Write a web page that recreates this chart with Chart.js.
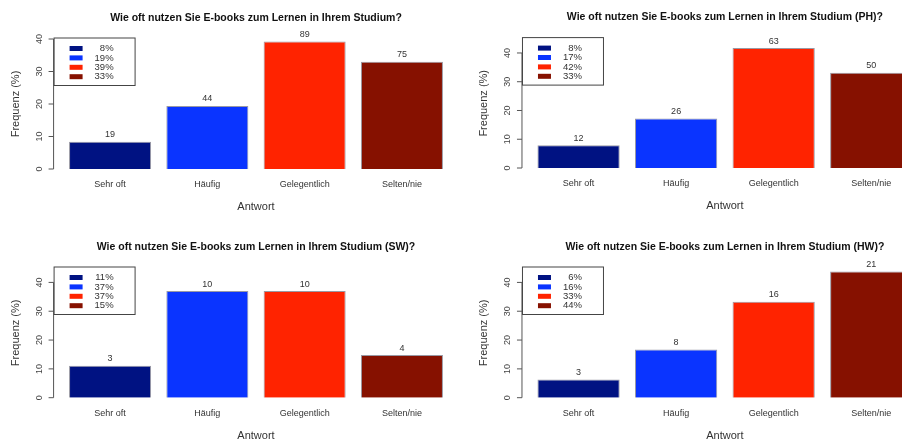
<!DOCTYPE html>
<html>
<head>
<meta charset="utf-8">
<script src="https://cdn.jsdelivr.net/npm/chart.js@4.4.1/dist/chart.umd.min.js"></script>
<style>
  html, body { margin: 0; padding: 0; background: #fff; }
  #wrap { position: relative; width: 902px; height: 439px; overflow: hidden; }
  #wrap canvas { position: absolute; }
</style>
</head>
<body>
<div id="wrap">
  <canvas id="c1" width="451" height="220" style="left:0;top:0"></canvas>
  <canvas id="c2" width="480" height="220" style="left:451px;top:0"></canvas>
  <canvas id="c3" width="451" height="219" style="left:0;top:220px"></canvas>
  <canvas id="c4" width="480" height="219" style="left:451px;top:220px"></canvas>
</div>
<script>
// --- data ---
const categories = ['Sehr oft', 'Häufig', 'Gelegentlich', 'Selten/nie'];
const xTitle = 'Antwort';
const yTitle = 'Frequenz (%)';
const yTicks = [0, 10, 20, 30, 40];

const titleAll = 'Wie oft nutzen Sie E-books zum Lernen in Ihrem Studium?';
const countsAll = [19, 44, 89, 75];
const pctAll = [8.4, 19.4, 39.2, 33.0];
const legendAll = ['8%', '19%', '39%', '33%'];

const titlePH = 'Wie oft nutzen Sie E-books zum Lernen in Ihrem Studium (PH)?';
const countsPH = [12, 26, 63, 50];
const pctPH = [7.9, 17.2, 41.7, 33.1];
const legendPH = ['8%', '17%', '42%', '33%'];

const titleSW = 'Wie oft nutzen Sie E-books zum Lernen in Ihrem Studium (SW)?';
const countsSW = [3, 10, 10, 4];
const pctSW = [11.1, 37.0, 37.0, 14.8];
const legendSW = ['11%', '37%', '37%', '15%'];

const titleHW = 'Wie oft nutzen Sie E-books zum Lernen in Ihrem Studium (HW)?';
const countsHW = [3, 8, 16, 21];
const pctHW = [6.3, 16.7, 33.3, 43.8];
const legendHW = ['6%', '16%', '33%', '44%'];

const COLORS = ['#001282', '#0a34ff', '#ff2300', '#861100'];
const FONT = '"Liberation Sans", Arial, Helvetica, sans-serif';

// R-style decorations drawn on top of the chart area
const rPlot = {
    id: 'rPlot',
    afterDraw(chart) {
        const o = chart.options.plugins.rPlot;
        const ctx = chart.ctx;
        const area = chart.chartArea;
        const xs = chart.scales.x, ys = chart.scales.y;
        const unit = (area.right - area.left) / 4.8;
        const plotLeft = area.left - 0.084 * unit;
        const cx = (area.left + area.right) / 2;
        const axisX = plotLeft - 1;

        ctx.save();
        ctx.textAlign = 'center';
        ctx.textBaseline = 'middle';

        // title
        ctx.fillStyle = '#111';
        ctx.font = 'bold 10.5px ' + FONT;
        ctx.fillText(o.title, cx, area.top - 21);

        // y axis
        ctx.strokeStyle = '#555';
        ctx.lineWidth = 1;
        ctx.beginPath();
        ctx.moveTo(axisX, ys.getPixelForValue(yTicks[0]));
        ctx.lineTo(axisX, ys.getPixelForValue(yTicks[yTicks.length - 1]));
        yTicks.forEach(t => {
            const y = ys.getPixelForValue(t);
            ctx.moveTo(axisX, y);
            ctx.lineTo(axisX - 5, y);
        });
        ctx.stroke();

        ctx.fillStyle = '#444';
        ctx.font = '9px ' + FONT;
        yTicks.forEach(t => {
            const y = ys.getPixelForValue(t);
            ctx.save();
            ctx.translate(plotLeft - 15, y);
            ctx.rotate(-Math.PI / 2);
            ctx.fillText(String(t), 0, 0);
            ctx.restore();
        });

        ctx.fillStyle = '#333';
        ctx.font = '11px ' + FONT;
        ctx.save();
        ctx.translate(plotLeft - 39, (area.top + area.bottom) / 2);
        ctx.rotate(-Math.PI / 2);
        ctx.fillText(yTitle, 0, 0);
        ctx.restore();

        // category labels + x title
        ctx.font = '9px ' + FONT;
        categories.forEach((c, i) => {
            ctx.fillText(c, xs.getPixelForValue(i), area.bottom + 16);
        });
        ctx.font = '11px ' + FONT;
        ctx.fillText(xTitle, cx, area.bottom + 38);

        // counts above bars
        ctx.font = '9px ' + FONT;
        const vals = chart.data.datasets[0].data;
        o.counts.forEach((n, i) => {
            ctx.fillText(String(n), xs.getPixelForValue(i), ys.getPixelForValue(vals[i]) - 7);
        });

        // legend box, top left
        const boxTop = area.top - 1.5;
        ctx.fillStyle = '#fff';
        ctx.fillRect(plotLeft, boxTop, 81, 47.5);
        ctx.strokeStyle = '#444';
        ctx.strokeRect(plotLeft - 0.5, boxTop + 0.5, 81, 47.5);
        ctx.textAlign = 'right';
        ctx.font = '9.5px ' + FONT;
        o.legend.forEach((lab, i) => {
            const y = boxTop + 11 + i * 9.4;
            ctx.fillStyle = COLORS[i];
            ctx.fillRect(plotLeft + 15, y - 2.5, 13, 5);
            ctx.fillStyle = '#333';
            ctx.fillText(lab, plotLeft + 59, y);
        });

        ctx.restore();
    }
};

function drawPanel(id, title, pct, counts, legend, yMax, pad) {
    new Chart(document.getElementById(id), {
        type: 'bar',
        data: {
            labels: categories,
            datasets: [{
                data: pct,
                backgroundColor: COLORS,
                borderColor: 'rgba(70,70,90,0.55)',
                borderWidth: 1,
                barPercentage: 0.843,
                categoryPercentage: 1
            }]
        },
        options: {
            responsive: false,
            animation: false,
            layout: { padding: pad },
            plugins: {
                legend: { display: false },
                title: { display: false },
                tooltip: { enabled: false },
                rPlot: { title, counts, legend }
            },
            scales: {
                x: { display: false, offset: true },
                y: { display: false, min: 0, max: yMax }
            }
        },
        plugins: [rPlot]
    });
}

drawPanel('c1', titleAll, pctAll, countsAll, legendAll, 40,
    { left: 61.4, right: 0.4, top: 39, bottom: 51 });
drawPanel('c2', titlePH, pctPH, countsPH, legendPH, 45,
    { left: 78.8, right: 11, top: 38.6, bottom: 52 });
drawPanel('c3', titleSW, pctSW, countsSW, legendSW, 45,
    { left: 61.4, right: 0.4, top: 48, bottom: 41.3 });
drawPanel('c4', titleHW, pctHW, countsHW, legendHW, 45,
    { left: 78.8, right: 11, top: 48, bottom: 41.3 });
</script>
</body>
</html>
